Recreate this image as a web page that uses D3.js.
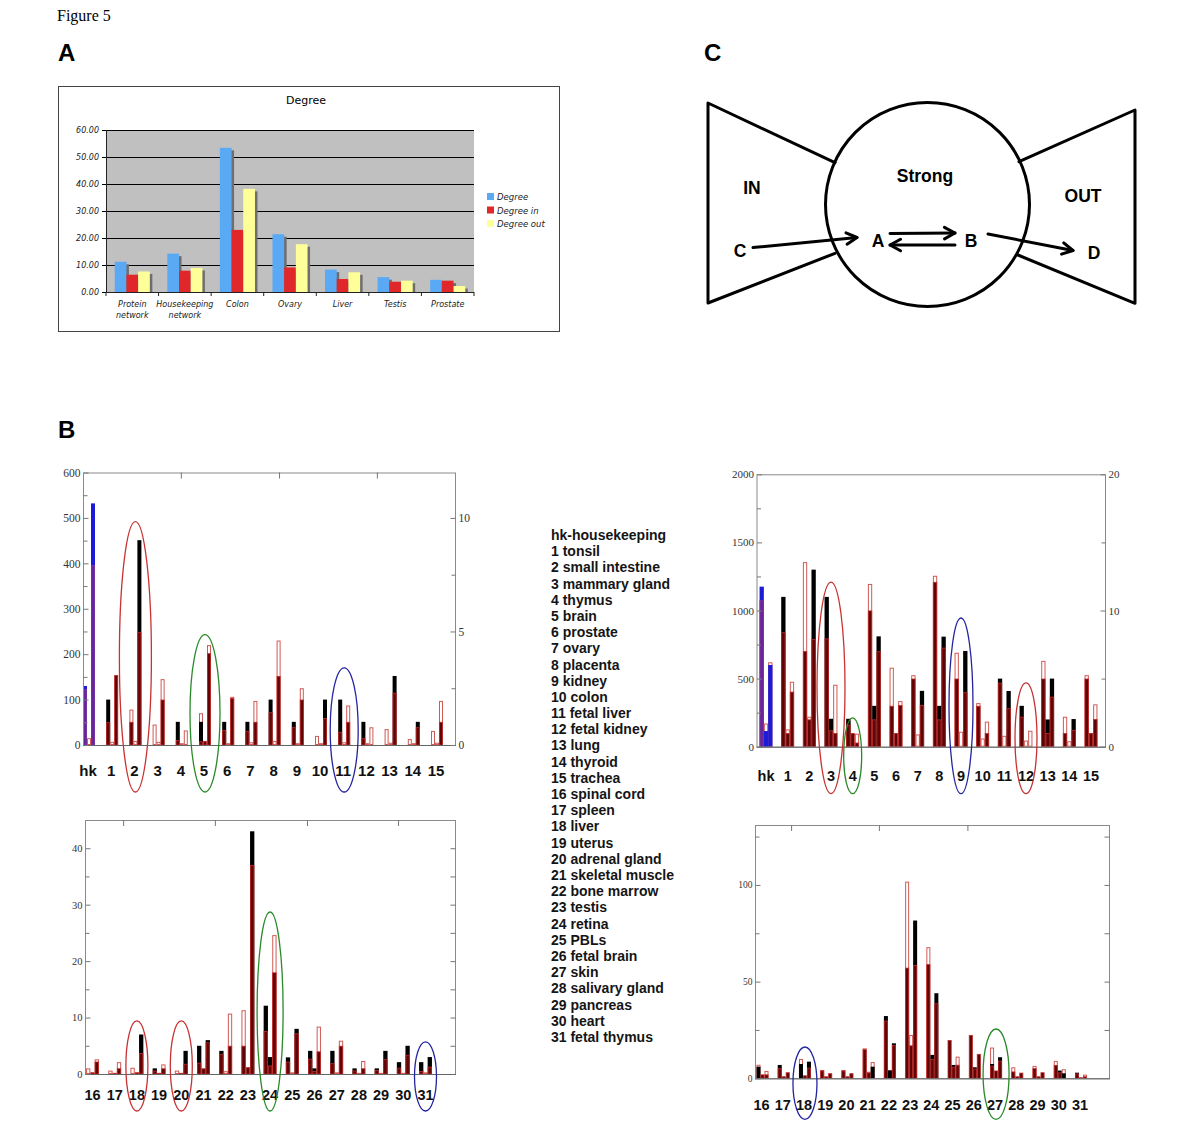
<!DOCTYPE html>
<html><head><meta charset="utf-8">
<script src="https://cdn.jsdelivr.net/npm/d3@7"></script>
<style>body{margin:0;background:#fff} svg{display:block}</style>
</head><body>
<svg id="fig" width="1200" height="1140"></svg>
<script>
// ================= DATA =================
// Panel A
const aCategories = [["Protein","network"],["Housekeeping","network"],["Colon"],["Ovary"],["Liver"],["Testis"],["Prostate"]];
const aSeries = ["Degree","Degree in","Degree out"];
const aDegree    = [11.2, 14.2, 53.4, 21.4, 8.3, 5.5, 4.5];
const aDegreeIn  = [6.4, 7.9, 23.0, 9.1, 4.8, 3.8, 4.2];
const aDegreeOut = [7.6, 8.9, 38.2, 17.7, 7.3, 4.2, 2.2];
const aTicks = [0, 10, 20, 30, 40, 50, 60];

// Panel B categories / legend
const bTopCats = ["hk","1","2","3","4","5","6","7","8","9","10","11","12","13","14","15"];
const bBotCats = ["16","17","18","19","20","21","22","23","24","25","26","27","28","29","30","31"];
const bLegend = ["hk-housekeeping","1 tonsil","2 small intestine","3 mammary gland","4 thymus","5 brain",
  "6 prostate","7 ovary","8 placenta","9 kidney","10 colon","11 fetal liver","12 fetal kidney","13 lung",
  "14 thyroid","15 trachea","16 spinal cord","17 spleen","18 liver","19 uterus","20 adrenal gland",
  "21 skeletal muscle","22 bone marrow","23 testis","24 retina","25 PBLs","26 fetal brain","27 skin",
  "28 salivary gland","29 pancreas","30 heart","31 fetal thymus"];

// each entry: [hollow outline value, dark (black) value, dark-red value]
const tlLeft  = [[0,130,123],[0,100,50],[78,0,51],[45,0,0],[0,51,11],[70,51,8],[0,51,33],[0,51,31],[0,100,72],[0,51,39],[20,0,0],[0,100,29],[0,51,15],[35,0,0],[13,0,0],[31,0,0]];
const tlMid   = [[15,0,0],[7,0,0],[9,0,0],[7,0,0],[4,0,0],[0,0,9],[4,0,0],[6,0,0],[9,0,0],[4,0,0],[4,0,0],[6,0,0],[4,0,0],[5,0,0],[4,0,0],[5,0,0]];
const tlRight = [[0,532,396],[0,0,154],[0,451,249],[145,0,100],[32,0,0],[220,0,202],[106,0,103],[97,0,51],[230,0,152],[125,0,100],[0,100,59],[87,0,51],[39,0,0],[0,152,115],[0,51,39],[97,0,51]];

const trLeft  = [[0,1175,1075],[0,1100,840],[1355,0,703],[0,1100,795],[190,205,160],[1195,0,1000],[580,0,300],[525,0,500],[1255,0,1210],[690,0,500],[320,0,300],[0,500,470],[0,300,220],[630,0,500],[220,0,100],[525,0,500]];
const trMid   = [[170,115,0],[127,0,100],[220,0,200],[0,205,120],[0,0,100],[0,300,200],[0,0,100],[90,0,0],[0,300,200],[110,0,0],[60,0,0],[80,0,0],[45,0,0],[0,200,100],[40,0,0],[100,0,100]];
const trRight = [[620,600,0],[477,0,404],[0,1300,791],[455,0,100],[95,0,30],[0,810,700],[335,0,305],[0,410,306],[0,808,727],[0,703,399],[184,0,100],[0,409,282],[117,0,0],[0,500,367],[0,203,122],[311,0,203]];

const blLeft  = [[1,0,0],[0.6,0,0],[1.1,0,0],[0,1.0,0.6],[0.6,0,0],[0,5,2],[0,4.1,3.5],[11.3,0,5],[0,12.1,7.6],[0,2.95,2.2],[0,4.1,2.7],[0,4.1,1.9],[0,1.0,0.6],[0,1.0,0.7],[0,2.1,1.1],[0,2.1,0.5]];
const blMid   = [[0,0,0.3],[0,0,0.2],[0,0,0.3],[0,0,0.2],[0,0,0.2],[0,0,1.0],[0.5,0,0],[0,0,1.2],[0,3,1.5],[0.3,0,0],[0,1.0,0.5],[0.3,0,0],[0.2,0,0],[0.2,0,0],[0.2,0,0],[0.3,0,0]];
const blRight = [[2.6,0,2.2],[2.1,0,1.0],[0,7.0,3.7],[1.7,0,1.0],[0,4.1,1.8],[0,6.0,5.6],[10.7,0,5.0],[0,43,37],[24.6,0,18],[0,8.0,7.2],[8.4,0,4.0],[5.9,0,5.0],[2.3,0,1.0],[0,4.1,2.6],[0,5.0,3.4],[0,3.0,1.3]];

const brLeft  = [[7,6,0],[0,6.9,5.2],[10,7.4,0],[4.3,0,4.0],[4.3,0,4.0],[15.5,0,15],[0,32.2,29.8],[101.7,0,57.2],[67.8,0,59],[0,0,19.8],[0,0,22.4],[15.9,7.4,6.5],[5.7,0,3.5],[6.4,0,5.2],[9.0,0,6.9],[0,2.9,2.5]];
const brMid   = [[0,0,2],[0,0,1],[0,0,1.5],[0,0,1],[0,0,1],[3.4,0,3],[4.3,4,0],[22.4,0,17],[0,12.1,10],[0,6.9,6],[0,5.7,5],[0,0,4],[0,0,1],[0,0,1],[0,4,3],[0,0,0.5]];
const brRight = [[3.8,0,2],[0,0,3.1],[0,8.6,5.5],[0,0,2.6],[0,0,2.6],[8.4,6.0,0],[0,18.1,17.2],[0,81.6,58.6],[0,44,38.8],[11.2,0,7],[0,0,12.6],[0,10.9,9.1],[0,0,2.9],[0,0,3.1],[4.7,2.6,0],[1.9,0,1]];

// highlighted categories (ellipses): category, colour, top value of ellipse
const tlMarks = [{cat:"2",c:"#c83232",top:492,rx:16},{cat:"5",c:"#2a8a2a",top:243,rx:15},{cat:"11",c:"#2424a0",top:170,rx:14}];
const trMarks = [{cat:"3",c:"#c83232",top:1209,rx:14},{cat:"4",c:"#2a8a2a",top:211,rx:9},{cat:"9",c:"#2424a0",top:945,rx:12},{cat:"12",c:"#c83232",top:468,rx:11}];
const blMarks = [{cat:"18",c:"#c83232",top:9.4,rx:11},{cat:"20",c:"#c83232",top:9.4,rx:11},{cat:"24",c:"#2a8a2a",top:28.7,rx:13},{cat:"31",c:"#2424a0",top:5.7,rx:11}];
const brMarks = [{cat:"18",c:"#2424a0",top:16.2,rx:12},{cat:"27",c:"#2a8a2a",top:25.5,rx:13}];

// ================= DRAW =================
const svg = d3.select("#fig");
const SANS = "'Liberation Sans', Arial, sans-serif";
const SERIF = "'Liberation Serif', 'Times New Roman', serif";

svg.append("text").attr("x",57).attr("y",21).attr("font-family",SERIF).attr("font-size",16).text("Figure 5");
[["A",58,61],["C",704,61],["B",58,438]].forEach(([t,x,y])=>
  svg.append("text").attr("x",x).attr("y",y).attr("font-family",SANS).attr("font-weight","bold").attr("font-size",24).text(t));

// ---------- Panel A ----------
(function(){
  const g = svg.append("g");
  const DJ = "'DejaVu Sans', Verdana, sans-serif";
  g.append("rect").attr("x",58.5).attr("y",86.5).attr("width",501).attr("height",245).attr("fill","#fff").attr("stroke","#444");
  g.append("text").attr("x",306).attr("y",104).attr("text-anchor","middle").attr("font-family",DJ).attr("font-size",11).text("Degree");
  const x0 = d3.scaleBand().domain(d3.range(aCategories.length)).range([106,474]);
  const y = d3.scaleLinear().domain([0,60]).range([292,130]);
  g.append("rect").attr("x",106).attr("y",130).attr("width",368).attr("height",162).attr("fill","#c0c0c0");
  g.selectAll(".grid").data(aTicks.slice(1)).join("line").attr("x1",106).attr("x2",474)
    .attr("y1",d=>y(d)+0.5).attr("y2",d=>y(d)+0.5).attr("stroke","#000").attr("stroke-width",1);
  const yAxis = d3.axisLeft(y).tickValues(aTicks).tickSize(4).tickPadding(3).tickFormat(d3.format(".2f"));
  g.append("g").attr("transform","translate(106,0)").call(yAxis)
    .call(s=>{s.selectAll("text").attr("font-family",DJ).attr("font-size",8).attr("font-style","italic").attr("fill","#222");
              s.select(".domain").attr("stroke","#222");});
  g.append("line").attr("x1",106).attr("x2",474).attr("y1",292.5).attr("y2",292.5).attr("stroke","#222");
  g.selectAll(".xt").data(d3.range(aCategories.length+1)).join("line")
    .attr("x1",d=>106+d*x0.step()).attr("x2",d=>106+d*x0.step()).attr("y1",292).attr("y2",296).attr("stroke","#222");
  const cols = ["#5aa9f5","#e0282a","#ffff99"];
  const series = [aDegree,aDegreeIn,aDegreeOut];
  const bw = 11.7;
  aCategories.forEach((c,i)=>{
    const start = x0(i) + (x0.bandwidth()-3*bw)/2;
    series.forEach((s,j)=>{
      const bx = start + j*bw;
      g.append("rect").attr("x",bx+2.5).attr("y",y(s[i])+2.5).attr("width",bw).attr("height",y(0)-y(s[i])-2.5).attr("fill","#6e6e6e");
      g.append("rect").attr("x",bx).attr("y",y(s[i])).attr("width",bw).attr("height",y(0)-y(s[i])).attr("fill",cols[j]);
    });
    c.forEach((ln,k)=>g.append("text").attr("x",x0(i)+x0.bandwidth()/2).attr("y",307+k*11).attr("text-anchor","middle")
      .attr("font-family",DJ).attr("font-size",8).attr("font-style","italic").attr("fill","#222").text(ln));
  });
  aSeries.forEach((s,j)=>{
    g.append("rect").attr("x",487).attr("y",193+j*13.5).attr("width",7).attr("height",7).attr("fill",cols[j]);
    g.append("text").attr("x",497).attr("y",200+j*13.5).attr("font-family",DJ).attr("font-size",8.5).attr("font-style","italic").attr("fill","#222").text(s);
  });
})();

// ---------- Panel C ----------
(function(){
  const g = svg.append("g").attr("stroke","#000").attr("stroke-width",3).attr("fill","none").attr("stroke-linecap","round").attr("stroke-linejoin","round");
  const L = d3.line();
  g.append("path").attr("d",L([[835,162.7],[708,103],[708,303],[835,253.3]]));
  g.append("path").attr("d",L([[1019,161.7],[1135,110],[1135,303.3],[1018,255]]));
  g.append("circle").attr("cx",927.5).attr("cy",204.5).attr("r",102);
  function arrow(p,q){
    g.append("path").attr("d",L([p,q]));
    const a = Math.atan2(q[1]-p[1],q[0]-p[0]), len=12, sp=0.5;
    g.append("path").attr("d",L([[q[0]-len*Math.cos(a-sp),q[1]-len*Math.sin(a-sp)],q,[q[0]-len*Math.cos(a+sp),q[1]-len*Math.sin(a+sp)]]));
  }
  arrow([753,247.5],[857,237.5]);
  arrow([890,233.5],[955,233]);
  arrow([955,245],[890,245]);
  arrow([988,234],[1073,250.5]);
  const t = svg.append("g").attr("font-family",SANS).attr("font-weight","bold").attr("font-size",17.5).attr("text-anchor","middle");
  [["IN",752,194],["Strong",925,182],["OUT",1083,202],["C",740,257],["A",878,247],["B",971,247],["D",1094,259]]
    .forEach(([s,x,y])=>t.append("text").attr("x",x).attr("y",y).text(s));
})();

// ---------- Panel B legend list ----------
svg.append("g").selectAll("text").data(bLegend).join("text")
  .attr("x",551).attr("y",(d,i)=>540+i*16.19).attr("font-family",SANS).attr("font-weight","bold").attr("font-size",14).attr("fill","#151515").text(d=>d);

// ---------- Panel B charts ----------
function drawB(cfg){
  const g = svg.append("g");
  const [fx0,fy0,fx1,fy1] = cfg.frame;
  const x = d3.scalePoint().domain(cfg.cats).range(cfg.xr);
  const y = d3.scaleLinear().domain([0,cfg.ymax]).range([fy1,fy0]);
  const yR = d3.scaleLinear().domain([0,cfg.rmax]).range([fy1,fy0]);
  const sw = cfg.sw;
  // bars
  const slots = [cfg.left,cfg.mid,cfg.right];
  cfg.cats.forEach((c,i)=>{
    const isHk = c==="hk";
    const dark = isHk ? "#1c1cd8" : "#000";
    const fill = isHk ? "#6a2596" : "#5e0606";
    const fillStroke = isHk ? "#7a36a8" : "#c42a2a";
    slots.forEach((arr,j)=>{
      const [o,k,r] = arr[i];
      const bx = x(c) + (j-1.5)*sw;
      if(o>0) g.append("rect").attr("x",bx+0.5).attr("y",y(o)+0.5).attr("width",sw-1).attr("height",Math.max(0,y(0)-y(o)-1))
        .attr("fill","#fff").attr("stroke","#d25a55").attr("stroke-width",1);
      if(k>0) g.append("rect").attr("x",bx).attr("y",y(k)).attr("width",sw).attr("height",y(0)-y(k)).attr("fill",dark);
      if(r>0) g.append("rect").attr("x",bx+0.4).attr("y",y(r)+0.4).attr("width",sw-0.8).attr("height",Math.max(0,y(0)-y(r)-0.4))
        .attr("fill",fill).attr("stroke",fillStroke).attr("stroke-width",0.8);
    });
  });
  // frame
  g.append("rect").attr("x",fx0+0.5).attr("y",fy0+0.5).attr("width",fx1-fx0).attr("height",fy1-fy0).attr("fill","none").attr("stroke","#8a8a8a");
  g.append("line").attr("x1",fx0).attr("x2",fx1+1).attr("y1",fy1+0.5).attr("y2",fy1+0.5).attr("stroke","#666");
  // left axis
  const styleAx = s=>{s.select(".domain").remove(); s.selectAll("line").attr("stroke","#777");
    s.selectAll("text").attr("font-family",SERIF).attr("font-size",cfg.tickFs).attr("fill","#333");};
  g.append("g").attr("transform",`translate(${fx0+0.5},0)`)
    .call(d3.axisLeft(y).tickValues(cfg.lt).tickSize(-5).tickPadding(3).tickFormat(d3.format("d"))).call(styleAx);
  g.append("g").attr("transform",`translate(${fx0+0.5},0)`)
    .call(d3.axisLeft(y).tickValues(cfg.lm).tickSize(-4).tickFormat("")).call(styleAx);
  // right axis
  g.append("g").attr("transform",`translate(${fx1+0.5},0)`)
    .call(d3.axisRight(yR).tickValues(cfg.rt).tickSize(-5).tickPadding(3).tickFormat(cfg.rLabels?d3.format("d"):"")).call(styleAx);
  if(cfg.rm.length) g.append("g").attr("transform",`translate(${fx1+0.5},0)`)
    .call(d3.axisRight(yR).tickValues(cfg.rm).tickSize(-4).tickFormat("")).call(styleAx);
  // top ticks
  const xt = d3.scaleLinear().domain([0,1]).range([fx0,fx1]);
  g.selectAll(".tt").data(cfg.topTicks).join("line").attr("x1",d=>xt(d)+0.5).attr("x2",d=>xt(d)+0.5)
    .attr("y1",fy0).attr("y2",fy0+6).attr("stroke","#777");
  // category labels
  g.selectAll(".cl").data(cfg.cats).join("text").attr("x",d=>x(d)+cfg.lOff).attr("y",cfg.labelY).attr("text-anchor","middle")
    .attr("font-family",SANS).attr("font-weight","bold").attr("font-size",cfg.labelFs).attr("fill","#111").text(d=>d);
  // ellipses
  cfg.marks.forEach(m=>{
    const top = y(m.top), bot = fy1 + cfg.ellBot;
    g.append("ellipse").attr("cx",x(m.cat)).attr("cy",(top+bot)/2).attr("rx",m.rx).attr("ry",(bot-top)/2)
      .attr("fill","none").attr("stroke",m.c).attr("stroke-width",1.3);
  });
}

drawB({cats:bTopCats,left:tlLeft,mid:tlMid,right:tlRight,frame:[83,472.5,455,745],xr:[89,437],sw:4,
  ymax:600,rmax:12,lt:[0,100,200,300,400,500,600],lm:[50,150,250,350,450,550],rt:[0,5,10],rm:[2.5,7.5],rLabels:true,
  tickFs:11.5,topTicks:[0.263,0.527,0.79],labelY:776,labelFs:15,lOff:-1,marks:tlMarks,ellBot:47});
drawB({cats:bTopCats,left:trLeft,mid:trMid,right:trRight,frame:[756.5,474.3,1105,746.7],xr:[766,1091],sw:4.3,
  ymax:2000,rmax:20,lt:[0,500,1000,1500,2000],lm:[250,750,1250,1750],rt:[0,10,20],rm:[5,15],rLabels:true,
  tickFs:11,topTicks:[],labelY:781,labelFs:14.5,lOff:0,marks:trMarks,ellBot:47});
drawB({cats:bBotCats,left:blLeft,mid:blMid,right:blRight,frame:[85,820,455,1074],xr:[92.5,425.5],sw:4.3,
  ymax:45,rmax:45,lt:[0,10,20,30,40],lm:[5,15,25,35],rt:[5,10,15,20,25,30,35,40],rm:[],rLabels:false,
  tickFs:10.5,topTicks:[0.103,0.351,0.6,0.846],labelY:1100,labelFs:14.5,lOff:0,marks:blMarks,ellBot:37});
drawB({cats:bBotCats,left:brLeft,mid:brMid,right:brRight,frame:[755,825,1109,1078.3],xr:[762.5,1081],sw:4,
  ymax:131,rmax:131,lt:[0,50,100],lm:[25,75,125],rt:[25,50,75,100,125],rm:[],rLabels:false,
  tickFs:9.5,topTicks:[0.102,0.35,0.6],labelY:1110,labelFs:14.5,lOff:-1,marks:brMarks,ellBot:41});
</script>
</body></html>
